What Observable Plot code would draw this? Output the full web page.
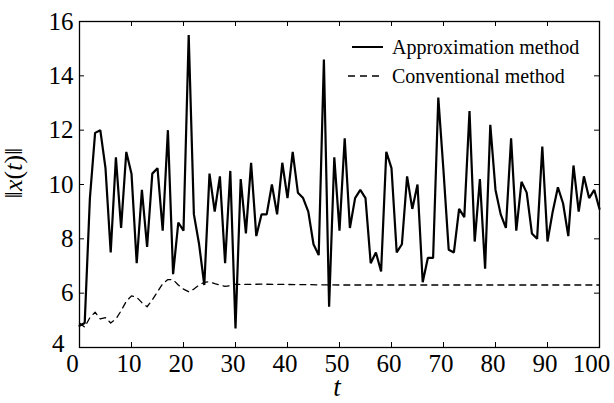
<!DOCTYPE html>
<html><head><meta charset="utf-8">
<script src="https://cdn.jsdelivr.net/npm/d3@7"></script>
<script src="https://cdn.jsdelivr.net/npm/@observablehq/plot@0.6"></script>
<style>
body{margin:0;background:#fff;}
#wrap{position:relative;width:614px;height:403px;}
svg text, svg tspan{font-family:"Liberation Serif","DejaVu Serif",serif !important;}
.leg{position:absolute;left:346px;height:20px;display:flex;align-items:center;font-family:"Liberation Serif","DejaVu Serif",serif;font-size:20px;line-height:20px;color:#000;white-space:nowrap;}
.leg svg{margin-right:6px;}
</style></head><body>
<div id="wrap"></div>
<script>
// time steps
const t = [0,1,2,3,4,5,6,7,8,9,10,11,12,13,14,15,16,17,18,19,20,21,22,23,24,25,26,27,28,29,30,31,32,33,34,35,36,37,38,39,40,41,42,43,44,45,46,47,48,49,50,51,52,53,54,55,56,57,58,59,60,61,62,63,64,65,66,67,68,69,70,71,72,73,74,75,76,77,78,79,80,81,82,83,84,85,86,87,88,89,90,91,92,93,94,95,96,97,98,99,100];
// Approximation method ||x(t)||
const approx = [4.8,4.9,9.5,11.9,12.0,10.6,7.5,11.0,8.4,11.2,10.4,7.1,9.8,7.7,10.4,10.6,8.3,12.0,6.7,8.6,8.3,15.5,8.9,7.8,6.3,10.4,9.0,10.3,7.1,10.5,4.7,10.2,8.2,10.8,8.1,8.9,8.9,10.0,8.9,10.8,9.5,11.2,9.7,9.5,9.0,7.8,7.4,14.6,5.5,11.0,8.3,11.7,8.4,9.5,9.8,9.5,7.1,7.5,6.8,11.2,10.6,7.5,7.8,10.3,9.1,10.0,6.4,7.3,7.3,13.2,10.5,7.6,7.5,9.1,8.8,12.7,7.9,10.2,6.9,12.2,9.8,8.9,8.4,11.7,8.3,10.1,9.7,8.2,8.0,11.4,7.9,9.0,9.9,9.3,8.1,10.7,9.0,10.3,9.5,9.8,9.1];
// Conventional method ||x(t)||
const convT = [0,1,2,3,4,5,6,7,8,9,10,11,12,13,14,15,16,17,18,19,20,21,22,23,24,25,26,27,28,29,30,35,40,50,60,70,80,90,100];
const conv = [4.9,4.75,5.1,5.3,5.05,5.1,4.9,5.05,5.35,5.7,5.9,5.85,5.65,5.5,5.75,6.05,6.35,6.5,6.5,6.3,6.15,6.05,6.15,6.3,6.4,6.42,6.35,6.3,6.25,6.28,6.32,6.33,6.32,6.3,6.3,6.3,6.3,6.3,6.3];
// ticks
const xTicks = [0,10,20,30,40,50,60,70,80,90,100];
const yTicks = [4,6,8,10,12,14,16];
const seriesNames = ["Approximation method","Conventional method"];
const xLabel = "t";

const approxData = t.map((d,i)=>({t:d, v:approx[i]}));
const convData = convT.map((d,i)=>({t:d, v:conv[i]}));

const W=614,H=403,ML=79,MR=15,MT=21,MB=56;
const PW=W-ML-MR, PH=H-MT-MB, TL=5;
const SERIF='"Liberation Serif", "DejaVu Serif", serif';

const plot = Plot.plot({
  width:W, height:H, marginLeft:ML, marginRight:MR, marginTop:MT, marginBottom:MB,
  style:{fontFamily:SERIF, fontSize:"25px", color:"#000", background:"#fff"},
  x:{domain:[0,100]},
  y:{domain:[4,16]},
  marks:[
    Plot.line(convData, {x:"t", y:"v", stroke:"#000", strokeWidth:1.3, strokeDasharray:"6,5"}),
    Plot.line(approxData, {x:"t", y:"v", stroke:"#000", strokeWidth:2.2, strokeLinejoin:"miter"}),
    Plot.tickX(xTicks, {x:d=>d, insetTop:PH-TL, stroke:"#000"}),
    Plot.tickX(xTicks, {x:d=>d, insetBottom:PH-TL, stroke:"#000"}),
    Plot.tickY(yTicks, {y:d=>d, insetRight:PW-TL, stroke:"#000"}),
    Plot.tickY(yTicks, {y:d=>d, insetLeft:PW-TL, stroke:"#000"}),
    Plot.frame({stroke:"#000", strokeWidth:1.3}),
    Plot.axisX({ticks:xTicks, tickSize:0, tickPadding:7, label:null}),
    Plot.axisY({ticks:yTicks, tickSize:0, tickPadding:6, label:null})
  ]
});
document.getElementById("wrap").appendChild(plot);

// small label nudges like the reference
const xt = plot.querySelectorAll('[aria-label="x-axis tick label"] text');
xt.forEach((el,i)=>{
  const v = xTicks[i];
  el.setAttribute("dx", v===100 ? -8 : v===0 ? -7 : -2.5);
});
const yt = plot.querySelectorAll('[aria-label="y-axis tick label"] text');
yt.forEach((el,i)=>{
  if (yTicks[i]===4) { el.setAttribute("dx",-9); el.setAttribute("dy","-0.15em"); }
});

// axis titles
const svg = d3.select(plot.tagName.toLowerCase()==="svg" ? plot : plot.querySelector("svg"));
svg.append("text")
  .attr("x", 337).attr("y", 396)
  .attr("text-anchor","middle")
  .style("font-size","27px").style("font-style","italic")
  .attr("fill","#000")
  .text(xLabel);
const yl = svg.append("text")
  .attr("transform","translate(22,173) rotate(-90)")
  .attr("text-anchor","middle")
  .style("font-size","26px")
  .attr("fill","#000");
[["‖",false],["x",true],["(",false],["t",true],[")",false],["‖",false]].forEach(([s,it])=>{
  yl.append("tspan").attr("font-style", it ? "italic" : null).text(s);
});

// legend
const wrap=document.getElementById("wrap");
const legTops=[37,66];
seriesNames.forEach((name,i)=>{
  const div=document.createElement("div");
  div.className="leg";
  div.style.top=legTops[i]+"px";
  const dash = i===0 ? "" : 'stroke-dasharray="7,5"';
  const x1 = i===0 ? 6 : 2;
  div.innerHTML=`<svg width="40" height="20"><line x1="${x1}" x2="37" y1="10" y2="10" stroke="#000" stroke-width="${i===0?2:1.5}" ${dash}/></svg><span>${name}</span>`;
  wrap.appendChild(div);
});
</script>
</body></html>
